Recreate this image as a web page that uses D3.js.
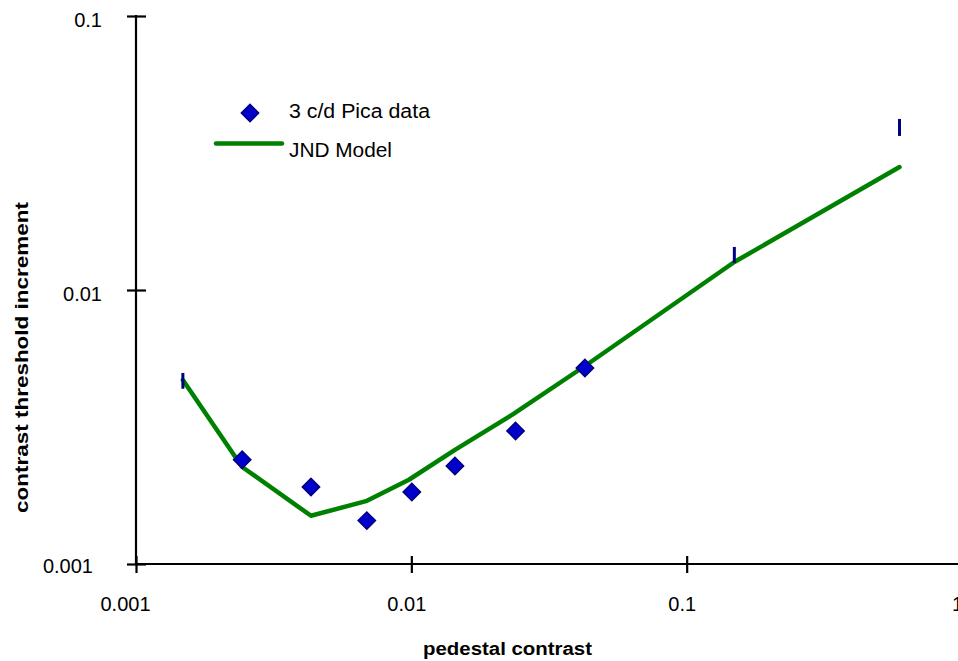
<!DOCTYPE html>
<html>
<head>
<meta charset="utf-8">
<script src="https://cdn.jsdelivr.net/npm/d3@7"></script>
<style>
  html, body { margin: 0; padding: 0; background: #fff; }
  svg { display: block; font-family: "Liberation Sans", Arial, sans-serif; }
</style>
</head>
<body>
<svg id="chart" width="958" height="661"></svg>
<script>
// ---- data ----
const dataX = [0.00243, 0.00432, 0.00689, 0.01004, 0.0144, 0.0239, 0.0427];
const dataY = [0.00240, 0.00191, 0.00144, 0.00183, 0.00228, 0.00306, 0.00519];
const barX = [0.00148, 0.149, 0.593];
const barLow = [0.00436, 0.01256, 0.0365];
const barHigh = [0.00498, 0.01436, 0.0421];
const modelX = [0.00148, 0.00243, 0.00432, 0.0069, 0.0098, 0.0144, 0.0235, 0.0427, 0.149, 0.593];
const modelY = [0.00469, 0.00226, 0.00150, 0.00170, 0.00203, 0.00261, 0.00353, 0.00528, 0.01265, 0.0281];
const xTicks = [0.001, 0.01, 0.1, 1];
const xTickLabels = ["0.001", "0.01", "0.1", "1"];
const yTicks = [0.001, 0.01, 0.1];
const yTickLabels = ["0.001", "0.01", "0.1"];
const legendLabels = ["3 c/d Pica data", "JND Model"];
const xTitle = "pedestal contrast";
const yTitle = "contrast threshold increment";

// ---- chart ----
const svg = d3.select("#chart");
const x = d3.scaleLog().domain([0.001, 1]).range([136, 962]);
const y = d3.scaleLog().domain([0.001, 0.1]).range([564, 16]);

const green = "#008000";
const navy = "#000080";
const blue = "#0000cc";

// x axis
const xAxis = d3.axisBottom(x).tickValues(xTicks)
  .tickFormat((d, i) => xTickLabels[i]).tickSizeOuter(0).tickSizeInner(0);
const gx = svg.append("g").attr("transform", `translate(0,${y(0.001)})`).call(xAxis);
gx.select(".domain").attr("stroke", "#000").attr("stroke-width", 2.2)
  .attr("d", `M${x(0.001)},0H960`);
gx.selectAll(".tick line").attr("stroke", "#000").attr("stroke-width", 2.2)
  .attr("y1", -8).attr("y2", 9);
gx.selectAll(".tick text").attr("fill", "#000").attr("font-size", 20)
  .attr("y", 47).attr("dy", 0)
  .attr("dx", (d, i) => i === 0 ? -11 : -5)
  .style("font-family", '"Liberation Sans", Arial, sans-serif');

// y axis
const yAxis = d3.axisLeft(y).tickValues(yTicks)
  .tickFormat((d, i) => yTickLabels[i]).tickSizeOuter(0).tickSizeInner(0);
const gy = svg.append("g").attr("transform", `translate(${x(0.001)},0)`).call(yAxis);
gy.select(".domain").attr("stroke", "#000").attr("stroke-width", 2.2)
  .attr("d", `M0,${y(0.1) - 1}V${y(0.001)}`);
gy.selectAll(".tick line").attr("stroke", "#000").attr("stroke-width", 2.2)
  .attr("x1", -9).attr("x2", 10);
gy.selectAll(".tick text").attr("fill", "#000").attr("font-size", 20)
  .attr("x", (d, i) => i === 0 ? -43 : -34)
  .attr("dy", (d, i) => i === 0 ? "0.42em" : "0.5em")
  .style("font-family", '"Liberation Sans", Arial, sans-serif');

// model line
const line = d3.line().x(d => x(d[0])).y(d => y(d[1]));
svg.append("path")
  .datum(modelX.map((v, i) => [v, modelY[i]]))
  .attr("d", line)
  .attr("fill", "none").attr("stroke", green).attr("stroke-width", 4.5)
  .attr("stroke-linejoin", "round").attr("stroke-linecap", "round");

// error-bar-only points
svg.selectAll("line.bar").data(barX).join("line").attr("class", "bar")
  .attr("x1", d => x(d)).attr("x2", d => x(d))
  .attr("y1", (d, i) => y(barHigh[i])).attr("y2", (d, i) => y(barLow[i]))
  .attr("stroke", navy).attr("stroke-width", 3);

// diamonds
const diamond = d3.symbol().type(d3.symbolSquare).size(150);
svg.selectAll("path.pt").data(dataX).join("path").attr("class", "pt")
  .attr("d", diamond)
  .attr("transform", (d, i) => `translate(${x(d)},${y(dataY[i])}) rotate(45)`)
  .attr("fill", blue).attr("stroke", navy).attr("stroke-width", 1.5);

// legend
const lg = svg.append("g");
lg.append("path").attr("d", diamond)
  .attr("transform", "translate(250,113) rotate(45)")
  .attr("fill", blue).attr("stroke", navy).attr("stroke-width", 1.5);
lg.append("line").attr("x1", 216).attr("x2", 282).attr("y1", 143.5).attr("y2", 143.5)
  .attr("stroke", green).attr("stroke-width", 4.5).attr("stroke-linecap", "round");
const legendLen = [141, 103];
lg.selectAll("text").data(legendLabels).join("text")
  .attr("x", 289).attr("y", (d, i) => i === 0 ? 118 : 157)
  .attr("font-size", 19.5).attr("fill", "#000")
  .attr("textLength", (d, i) => legendLen[i]).attr("lengthAdjust", "spacingAndGlyphs")
  .text(d => d);

// axis titles
svg.append("text").attr("x", 507.5).attr("y", 655).attr("text-anchor", "middle")
  .attr("font-size", 18).attr("font-weight", "bold").attr("fill", "#000")
  .attr("textLength", 169).attr("lengthAdjust", "spacingAndGlyphs")
  .text(xTitle);
svg.append("text").attr("transform", "translate(28,357.5) rotate(-90)")
  .attr("text-anchor", "middle")
  .attr("font-size", 18).attr("font-weight", "bold").attr("fill", "#000")
  .attr("textLength", 311).attr("lengthAdjust", "spacingAndGlyphs")
  .text(yTitle);
</script>
</body>
</html>
